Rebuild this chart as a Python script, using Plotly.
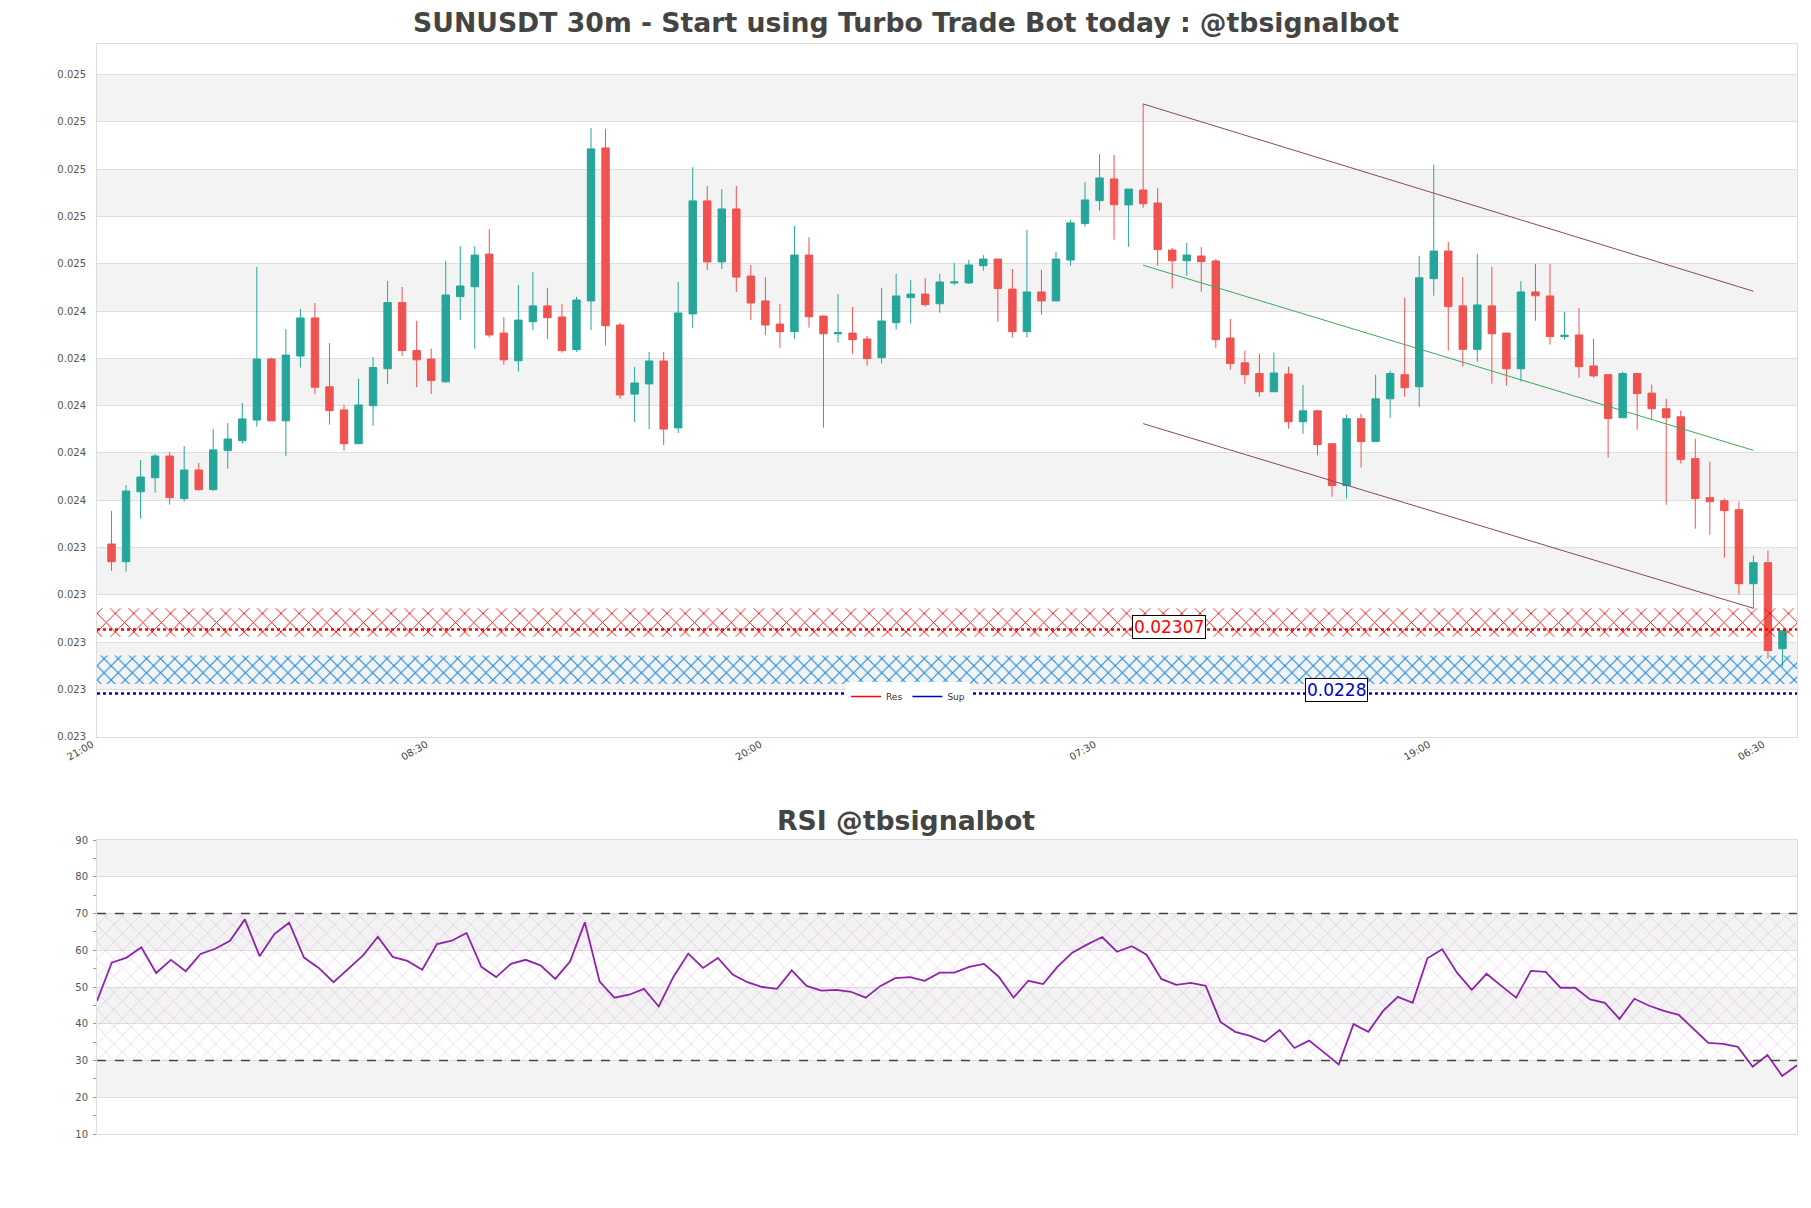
import pandas as pd
import plotly.graph_objects as go

# ---------------- data ----------------
open_ = [
    0.023432, 0.023357, 0.023653, 0.023712, 0.023804, 0.023624, 0.023745, 0.023662, 0.023827, 0.023869,
    0.023956, 0.024214, 0.023953, 0.024227, 0.024388, 0.024097, 0.023999, 0.023856, 0.024017, 0.024173,
    0.024453, 0.024250, 0.024214, 0.024118, 0.024478, 0.024520, 0.024658, 0.024324, 0.024207, 0.024372,
    0.024439, 0.024392, 0.024254, 0.024460, 0.025107, 0.024358, 0.024066, 0.024109, 0.024206, 0.023923,
    0.024405, 0.024883, 0.024625, 0.024849, 0.024565, 0.024460, 0.024362, 0.024330, 0.024654, 0.024396,
    0.024321, 0.024324, 0.024299, 0.024220, 0.024368, 0.024474, 0.024489, 0.024448, 0.024536, 0.024536,
    0.024609, 0.024637, 0.024510, 0.024330, 0.024498, 0.024460, 0.024633, 0.024787, 0.024884, 0.024976,
    0.024866, 0.024929, 0.024874, 0.024675, 0.024630, 0.024650, 0.024629, 0.024303, 0.024198, 0.024153,
    0.024076, 0.024151, 0.023949, 0.023995, 0.023856, 0.023679, 0.023962, 0.023865, 0.024046, 0.024148,
    0.024097, 0.024554, 0.024671, 0.024439, 0.024255, 0.024439, 0.024324, 0.024173, 0.024498, 0.024481,
    0.024309, 0.024316, 0.024185, 0.024148, 0.023966, 0.024153, 0.024070, 0.024004, 0.023970, 0.023793,
    0.023628, 0.023615, 0.023577, 0.023264, 0.023353, 0.022989]

high_ = [
    0.023572, 0.023681, 0.023787, 0.023813, 0.023821, 0.023846, 0.023775, 0.023918, 0.023944, 0.024028,
    0.024604, 0.024220, 0.024341, 0.024426, 0.024451, 0.024282, 0.024021, 0.024131, 0.024223, 0.024544,
    0.024519, 0.024376, 0.024258, 0.024629, 0.024692, 0.024692, 0.024764, 0.024392, 0.024527, 0.024582,
    0.024515, 0.024447, 0.024477, 0.025191, 0.025187, 0.024367, 0.024181, 0.024244, 0.024244, 0.024540,
    0.025026, 0.024946, 0.024933, 0.024946, 0.024612, 0.024561, 0.024447, 0.024777, 0.024730, 0.024396,
    0.024489, 0.024434, 0.024312, 0.024515, 0.024574, 0.024549, 0.024557, 0.024574, 0.024620, 0.024633,
    0.024654, 0.024637, 0.024595, 0.024760, 0.024591, 0.024667, 0.024802, 0.024963, 0.025081, 0.025077,
    0.024933, 0.025294, 0.024938, 0.024684, 0.024705, 0.024688, 0.024637, 0.024384, 0.024250, 0.024237,
    0.024241, 0.024182, 0.024104, 0.023999, 0.023856, 0.023979, 0.023983, 0.024148, 0.024165, 0.024474,
    0.024651, 0.025036, 0.024709, 0.024561, 0.024658, 0.024604, 0.024324, 0.024544, 0.024616, 0.024616,
    0.024414, 0.024430, 0.024300, 0.024148, 0.024161, 0.024153, 0.024106, 0.024046, 0.023996, 0.023877,
    0.023780, 0.023624, 0.023611, 0.023383, 0.023404, 0.023065]

low_ = [
    0.023319, 0.023315, 0.023539, 0.023649, 0.023598, 0.023611, 0.023657, 0.023657, 0.023750, 0.023856,
    0.023928, 0.023953, 0.023804, 0.024178, 0.024066, 0.023937, 0.023827, 0.023856, 0.023932, 0.024109,
    0.024227, 0.024095, 0.024066, 0.024114, 0.024379, 0.024258, 0.024305, 0.024190, 0.024161, 0.024337,
    0.024299, 0.024241, 0.024245, 0.024337, 0.024271, 0.024046, 0.023948, 0.023918, 0.023851, 0.023901,
    0.024346, 0.024591, 0.024595, 0.024498, 0.024379, 0.024316, 0.024262, 0.024300, 0.024347, 0.023924,
    0.024283, 0.024237, 0.024186, 0.024195, 0.024338, 0.024364, 0.024436, 0.024410, 0.024527, 0.024532,
    0.024588, 0.024372, 0.024305, 0.024305, 0.024402, 0.024460, 0.024609, 0.024774, 0.024842, 0.024719,
    0.024689, 0.024854, 0.024609, 0.024512, 0.024567, 0.024499, 0.024262, 0.024169, 0.024110, 0.024055,
    0.024076, 0.023920, 0.023898, 0.023807, 0.023632, 0.023624, 0.023755, 0.023865, 0.023966, 0.024055,
    0.024013, 0.024482, 0.024250, 0.024182, 0.024203, 0.024110, 0.024101, 0.024118, 0.024376, 0.024275,
    0.024296, 0.024135, 0.024135, 0.023797, 0.023966, 0.023915, 0.023958, 0.023598, 0.023772, 0.023497,
    0.023471, 0.023374, 0.023218, 0.023158, 0.022947, 0.022913]

close_ = [
    0.023357, 0.023656, 0.023715, 0.023804, 0.023628, 0.023745, 0.023662, 0.023830, 0.023876, 0.023961,
    0.024214, 0.023953, 0.024231, 0.024388, 0.024095, 0.023996, 0.023856, 0.024020, 0.024178, 0.024453,
    0.024250, 0.024211, 0.024123, 0.024485, 0.024523, 0.024654, 0.024316, 0.024211, 0.024379, 0.024439,
    0.024389, 0.024250, 0.024464, 0.025103, 0.024355, 0.024062, 0.024113, 0.024206, 0.023918, 0.024409,
    0.024883, 0.024625, 0.024849, 0.024561, 0.024451, 0.024358, 0.024330, 0.024654, 0.024393, 0.024321,
    0.024326, 0.024296, 0.024216, 0.024375, 0.024481, 0.024489, 0.024444, 0.024540, 0.024540, 0.024612,
    0.024637, 0.024512, 0.024330, 0.024498, 0.024460, 0.024637, 0.024790, 0.024887, 0.024980, 0.024867,
    0.024933, 0.024871, 0.024677, 0.024630, 0.024654, 0.024626, 0.024296, 0.024195, 0.024148, 0.024076,
    0.024155, 0.023949, 0.023995, 0.023852, 0.023679, 0.023962, 0.023865, 0.024046, 0.024153, 0.024093,
    0.024558, 0.024671, 0.024436, 0.024255, 0.024443, 0.024321, 0.024173, 0.024498, 0.024482, 0.024309,
    0.024315, 0.024182, 0.024143, 0.023962, 0.024153, 0.024068, 0.024004, 0.023966, 0.023789, 0.023624,
    0.023611, 0.023573, 0.023264, 0.023353, 0.022981, 0.023065]

rsi = [
    46.2, 56.6, 58.0, 60.8, 53.8, 57.4, 54.3, 59.0, 60.4, 62.6,
    68.4, 58.4, 64.4, 67.5, 58.0, 55.2, 51.3, 55.0, 58.6, 63.7,
    58.2, 57.1, 54.7, 61.7, 62.6, 64.7, 55.5, 52.7, 56.3, 57.4,
    55.9, 52.2, 56.9, 67.6, 51.5, 47.1, 47.9, 49.5, 44.7, 52.8,
    59.1, 55.2, 57.9, 53.4, 51.3, 50.0, 49.5, 54.5, 50.3, 49.0,
    49.2, 48.7, 47.1, 50.3, 52.4, 52.7, 51.7, 53.9, 53.9, 55.5,
    56.3, 52.8, 47.1, 51.7, 50.8, 55.6, 59.4, 61.6, 63.6, 59.6,
    61.1, 58.8, 52.2, 50.6, 51.1, 50.3, 40.5, 37.8, 36.7, 35.1,
    38.3, 33.4, 35.4, 32.2, 28.9, 39.9, 37.8, 43.5, 47.3, 45.7,
    57.8, 60.3, 53.9, 49.2, 53.6, 50.3, 47.1, 54.4, 54.1, 49.8,
    49.8, 46.6, 45.7, 41.3, 46.8, 44.9, 43.5, 42.4, 38.5, 34.8,
    34.5, 33.7, 28.3, 31.5, 25.8, 28.7]

res_level = 0.02307
sup_level = 0.0228
res_zone = [0.02304, 0.02316]
sup_zone = [0.02284, 0.02296]
res_label_idx = 73.8
sup_label_idx = 85.3

channel_idx = [72, 114]
channel_upper = [0.025293, 0.024501]
channel_mid = [0.024611, 0.023828]
channel_lower = [0.023941, 0.023160]

price_tick0 = 0.022617
price_dtick = 0.0002
price_range = [0.0226157, 0.0255487]
rsi_ticks = [10, 20, 30, 40, 50, 60, 70, 80, 90]

# ---------------- layout constants ----------------
W, H = 1811, 1208
L_PX, R_PX = 97, 1797
MAIN_TOP, MAIN_BOT = 43.5, 737
RSI_TOP, RSI_BOT = 840, 1134
TEAL = "#26a69a"
RED = "#ef5350"
BAND = "#f3f3f3"
GRID = "#dedede"
FONT = "DejaVu Sans"

start = pd.Timestamp("2024-03-10 21:00")
step = pd.Timedelta(minutes=30)
n = len(open_)
times = [start + step * (i + 1) for i in range(n)]
x_end = start + step * (n + 1)


def t_at(idx):
    return start + step * idx


def dom(top, bot):
    return [1 - bot / H, 1 - top / H]


fig = go.Figure()

# support / resistance hatched zones
fig.add_trace(go.Scatter(
    x=[start, x_end, x_end, start, start],
    y=[res_zone[0], res_zone[0], res_zone[1], res_zone[1], res_zone[0]],
    fill="toself", fillcolor="rgba(0,0,0,0)", mode="lines", line=dict(width=0),
    fillpattern=dict(shape="x", fgcolor="#ee1111", size=13, solidity=0.14),
    showlegend=False, hoverinfo="skip", xaxis="x", yaxis="y"))
fig.add_trace(go.Scatter(
    x=[start, x_end, x_end, start, start],
    y=[sup_zone[0], sup_zone[0], sup_zone[1], sup_zone[1], sup_zone[0]],
    fill="toself", fillcolor="rgba(0,0,0,0)", mode="lines", line=dict(width=0),
    fillpattern=dict(shape="x", fgcolor="#1588e0", size=10, solidity=0.2),
    showlegend=False, hoverinfo="skip", xaxis="x", yaxis="y"))

# res / sup lines
fig.add_trace(go.Scatter(x=[start, x_end], y=[res_level, res_level], mode="lines",
                         line=dict(color="#ff0000", width=2.5, dash="dot"),
                         showlegend=False, hoverinfo="skip", xaxis="x", yaxis="y"))
fig.add_trace(go.Scatter(x=[start, x_end], y=[sup_level, sup_level], mode="lines",
                         line=dict(color="#0000cc", width=2.5, dash="dot"),
                         showlegend=False, hoverinfo="skip", xaxis="x", yaxis="y"))

# channel lines
cx = [t_at(i) for i in channel_idx]
fig.add_trace(go.Scatter(x=cx, y=channel_upper, mode="lines", line=dict(color="#8c4660", width=1),
                         showlegend=False, hoverinfo="skip", xaxis="x", yaxis="y"))
fig.add_trace(go.Scatter(x=cx, y=channel_mid, mode="lines", line=dict(color="#3aa860", width=1),
                         showlegend=False, hoverinfo="skip", xaxis="x", yaxis="y"))
fig.add_trace(go.Scatter(x=cx, y=channel_lower, mode="lines", line=dict(color="#8c4660", width=1),
                         showlegend=False, hoverinfo="skip", xaxis="x", yaxis="y"))

# candles
fig.add_trace(go.Candlestick(
    x=times, open=open_, high=high_, low=low_, close=close_,
    increasing=dict(line=dict(color=TEAL, width=1), fillcolor=TEAL),
    decreasing=dict(line=dict(color=RED, width=1), fillcolor=RED),
    whiskerwidth=0, showlegend=False, xaxis="x", yaxis="y"))

# legend entries
fig.add_trace(go.Scatter(x=[None], y=[None], mode="lines", line=dict(color="#ff0000", width=1.5),
                         name="Res", xaxis="x", yaxis="y"))
fig.add_trace(go.Scatter(x=[None], y=[None], mode="lines", line=dict(color="#0000cc", width=1.5),
                         name="Sup", xaxis="x", yaxis="y"))

# RSI hatch 30-70
fig.add_trace(go.Scatter(
    x=[times[0], times[-1], times[-1], times[0], times[0]],
    y=[30, 30, 70, 70, 30],
    fill="toself", fillcolor="rgba(0,0,0,0)", mode="lines", line=dict(width=0),
    fillpattern=dict(shape="x", fgcolor="rgba(200,140,200,0.7)", size=12, solidity=0.07),
    showlegend=False, hoverinfo="skip", xaxis="x2", yaxis="y2"))
fig.add_trace(go.Scatter(x=times, y=rsi, mode="lines", line=dict(color="#8e24aa", width=1.8),
                         showlegend=False, xaxis="x2", yaxis="y2"))

shapes = []
# alternating bands main chart
n_ticks = int(round((price_range[1] - price_tick0) / price_dtick))
for k in range(1, n_ticks + 1, 2):
    y0 = price_tick0 + k * price_dtick
    y1 = min(y0 + price_dtick, price_range[1])
    shapes.append(dict(type="rect", xref="x domain", yref="y", x0=0, x1=1, y0=y0, y1=y1,
                       fillcolor=BAND, line=dict(width=0), layer="below"))
# RSI bands
for lo in [20, 40, 60, 80]:
    shapes.append(dict(type="rect", xref="x2 domain", yref="y2", x0=0, x1=1, y0=lo, y1=lo + 10,
                       fillcolor=BAND, line=dict(width=0), layer="below"))
for lvl in [30, 70]:
    shapes.append(dict(type="line", xref="x2 domain", yref="y2", x0=0, x1=1, y0=lvl, y1=lvl,
                       line=dict(color="#444444", width=1.3, dash="dash")))

fig_center = (W / 2 - L_PX) / (R_PX - L_PX)
annotations = [
    dict(text="<b>SUNUSDT 30m - Start using Turbo Trade Bot today : @tbsignalbot</b>",
         xref="paper", yref="paper", x=fig_center, y=1 - 22 / H, xanchor="center", yanchor="middle",
         showarrow=False, font=dict(family=FONT, size=26.7, color="#444444")),
    dict(text="<b>RSI @tbsignalbot</b>",
         xref="paper", yref="paper", x=fig_center, y=1 - 820 / H, xanchor="center", yanchor="middle",
         showarrow=False, font=dict(family=FONT, size=26.7, color="#444444")),
    dict(text=f"{res_level}", x=t_at(res_label_idx), y=res_level, xref="x", yref="y",
         showarrow=False, yshift=3, font=dict(family=FONT, size=17, color="#ff0000"),
         bgcolor="white", bordercolor="black", borderwidth=1, borderpad=1),
    dict(text=f"{sup_level}", x=t_at(sup_label_idx), y=sup_level, xref="x", yref="y",
         showarrow=False, yshift=3, font=dict(family=FONT, size=17, color="#0000cc"),
         bgcolor="white", bordercolor="black", borderwidth=1, borderpad=1),
]

fig.update_layout(
    template="none",
    width=W, height=H,
    margin=dict(l=L_PX, r=W - R_PX, t=0, b=0, pad=0, autoexpand=False),
    paper_bgcolor="white", plot_bgcolor="white",
    font=dict(family=FONT, size=10, color="#555555"),
    boxgap=0.27,
    shapes=shapes, annotations=annotations,
    showlegend=True,
    legend=dict(orientation="h", x=(908 - L_PX) / (R_PX - L_PX), y=1 - 696.5 / H,
                xanchor="center", yanchor="middle", bgcolor="white", borderwidth=0,
                font=dict(size=9, color="#333333"), itemwidth=30, tracegroupgap=0),
    xaxis=dict(domain=[0, 1], anchor="y", type="date", range=[start, x_end], automargin=False,
               tick0=start, dtick=23 * 30 * 60 * 1000, tickformat="%H:%M", tickangle=-30,
               tickfont=dict(size=10, color="#444444"), showgrid=False, zeroline=False,
               showline=True, linecolor="#dddddd", linewidth=1, mirror=True, ticks="",
               ticklabelstandoff=-3, ticklabelshift=-5,
               rangeslider=dict(visible=False)),
    yaxis=dict(domain=dom(MAIN_TOP, MAIN_BOT), anchor="x", range=price_range, automargin=False,
               tick0=price_tick0, dtick=price_dtick, tickformat=".3f",
               tickfont=dict(size=10, color="#555555"), showgrid=True, gridcolor=GRID, gridwidth=1,
               zeroline=False, showline=True, linecolor="#dddddd", linewidth=1, mirror=True,
               ticks="", ticklabelstandoff=8),
    xaxis2=dict(domain=[0, 1], anchor="y2", type="date", range=[times[0], times[-1]],
                automargin=False, showticklabels=False, showgrid=False, zeroline=False,
                showline=True, linecolor="#dddddd", linewidth=1, mirror=True, ticks=""),
    yaxis2=dict(domain=dom(RSI_TOP, RSI_BOT), anchor="x2", range=[10, 90], automargin=False,
                tickvals=rsi_ticks, tickfont=dict(size=10, color="#555555"),
                showgrid=True, gridcolor=GRID, gridwidth=1, zeroline=False,
                showline=True, linecolor="#dddddd", linewidth=1, mirror=True, ticks="",
                minor=dict(ticks="outside", dtick=5, ticklen=3, tickcolor="#999999", showgrid=False),
                ticklabelstandoff=6),
)

fig.write_html("out.html", config={"displayModeBar": False},
               post_script="document.body.style.margin='0px';document.body.style.overflow='hidden';")
